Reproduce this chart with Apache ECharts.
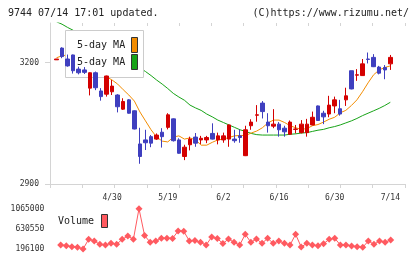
<!DOCTYPE html>
<html>
<head>
<meta charset="utf-8">
<script src="https://cdn.jsdelivr.net/npm/echarts/dist/echarts.min.js"></script>
<style>
  html, body { margin: 0; padding: 0; background: #fff; }
  #main { width: 420px; height: 259px; }
</style>
</head>
<body>
<div id="main"></div>
<script>
    var myChart = echarts.init(document.getElementById('main'));

    // 日付
    var dates = ['4/15','4/16','4/19','4/20','4/21','4/22','4/23','4/26','4/27','4/28',
        '4/30','5/6','5/7','5/10','5/11','5/12','5/13','5/14','5/17','5/18',
        '5/19','5/20','5/21','5/24','5/25','5/26','5/27','5/28','5/31','6/1',
        '6/2','6/3','6/4','6/7','6/8','6/9','6/10','6/11','6/14','6/15',
        '6/16','6/17','6/18','6/21','6/22','6/23','6/24','6/25','6/28','6/29',
        '6/30','7/1','7/2','7/5','7/6','7/7','7/8','7/9','7/12','7/13','7/14'];

    // 四本値
    var openP = [3207,3236,3209,3219,3184,3182,3137,3175,3130,3122,3128,3120,3085,3108,3081,2999,3009,3017,3011,3028,
        3040,3061,3009,2968,2997,3016,3009,3009,3025,3009,3009,3011,3011,3019,2970,3044,3070,3100,3053,3043,
        3048,3038,3023,3035,3027,3027,3046,3093,3075,3073,3093,3086,3108,3180,3169,3168,3209,3213,3189,3188,3197];
    var closeP = [3209,3215,3192,3180,3175,3176,3175,3138,3116,3167,3142,3091,3104,3075,3036,2968,3002,3001,3021,3017,
        3071,3007,2976,2991,3011,3001,3013,3015,3011,3019,3019,3046,3007,3015,3034,3053,3071,3079,3044,3048,
        3034,3029,3053,3036,3048,3048,3065,3057,3066,3095,3108,3073,3118,3135,3170,3197,3208,3190,3174,3182,3213];
    var lowP = [3207,3211,3190,3173,3171,3172,3119,3132,3106,3116,3120,3077,3083,3074,3035,2950,2984,2991,3009,2990,
        3035,3005,2975,2959,2983,2992,2999,3001,3010,2998,3002,2992,3002,3002,2969,3034,3054,3062,3027,3038,
        3017,3017,3022,3025,3025,3017,3045,3056,3048,3065,3075,3069,3093,3134,3155,3167,3198,3189,3171,3159,3182];
    var highP = [3209,3238,3220,3220,3190,3189,3176,3178,3137,3168,3157,3122,3112,3110,3082,3039,3034,3021,3025,3038,
        3075,3062,3013,2997,3017,3026,3019,3019,3050,3027,3027,3047,3034,3035,3044,3060,3095,3105,3075,3085,
        3053,3044,3057,3046,3058,3061,3079,3094,3081,3118,3116,3108,3138,3180,3184,3209,3225,3221,3192,3194,3219];

    // 移動平均
    var ma5 = [3212,3217,3219,3217,3209,3197,3187,3180,3172,3165,3157,3147,3133,3120,3105,3078,3056,3034,3016,3006,
        3004,3016,3019,3011,3014,3009,2996,2996,3003,3009,3011,3015,3019,3020,3020,3026,3031,3039,3051,3058,
        3058,3052,3044,3039,3035,3037,3044,3047,3053,3060,3065,3076,3082,3094,3108,3128,3150,3170,3182,3188,3192];
    var ma25 = [3301,3295,3287,3280,3272,3265,3257,3250,3243,3235,3227,3219,3210,3202,3194,3187,3178,3168,3157,3147,
        3136,3124,3115,3107,3095,3088,3082,3073,3066,3058,3052,3046,3040,3034,3030,3025,3022,3021,3021,3021,
        3021,3021,3023,3024,3026,3027,3030,3033,3035,3039,3042,3046,3051,3056,3062,3069,3075,3081,3087,3094,3102];

    // 出来高
    var volume = [null,282000,267000,246000,233000,196100,405000,369000,297000,282000,319000,297000,405000,476000,405000,
        1065000,487000,341000,369000,427000,427000,425000,584000,580000,369000,379000,341000,282000,455000,422000,
        315000,412000,341000,282000,513000,341000,412000,319000,427000,319000,369000,319000,282000,513000,239000,
        319000,282000,267000,310000,405000,427000,282000,282000,261000,246000,233000,369000,297000,369000,341000,390000];

    var priceTicks = [2900, 3200];
    var volTicks = [196100, 630550, 1065000];

    var candleData = [];
    for (var i = 0; i < dates.length; i++) {
        candleData.push([openP[i], closeP[i], lowP[i], highP[i]]);
    }

    var mono = 'DejaVu Sans Mono';
    var axisGray = '#d4d4d4';
    // 桁区切りなしで表示
    function plain(v) { return String(v); }

    var option = {
        animation: false,
        grid: [
            {left: 53.7, top: 23, width: 339.4, height: 161},   // ローソク足
            {left: 50, top: 23, width: 355, height: 161},       // 枠・目盛
            {left: 52.3, top: 208.7, width: 341.2, height: 40.3} // 出来高
        ],
        xAxis: [
            {
                type: 'category', gridIndex: 0, data: dates, boundaryGap: true,
                axisLine: {show: false},
                axisTick: {show: false},
                axisLabel: {
                    interval: function (idx) { return idx > 0 && idx % 10 === 0; },
                    fontFamily: mono, fontSize: 8, color: '#333', margin: 10
                }
            },
            {
                type: 'value', gridIndex: 1, min: 0, max: 11, interval: 1,
                axisLine: {show: true, lineStyle: {color: axisGray}},
                axisTick: {show: true, length: 4, lineStyle: {color: axisGray}},
                axisLabel: {show: false},
                splitLine: {show: false}
            },
            {
                type: 'value', gridIndex: 1, min: 0, max: 11, interval: 1,
                axisLine: {show: false},
                axisTick: {show: true, inside: true, length: 3, lineStyle: {color: axisGray}},
                axisLabel: {show: false},
                splitLine: {show: false}
            },
            {
                type: 'category', gridIndex: 2, data: dates, boundaryGap: true, show: false
            }
        ],
        yAxis: [
            {type: 'value', gridIndex: 0, min: 2900, max: 3298, show: false},
            {
                type: 'value', gridIndex: 1, min: 2900, max: 3298,
                axisLine: {show: true, lineStyle: {color: axisGray}},
                axisTick: {show: true, length: 5, customValues: priceTicks, lineStyle: {color: axisGray}},
                axisLabel: {customValues: priceTicks, formatter: plain, fontFamily: mono, fontSize: 8, color: '#333', margin: 11},
                splitLine: {show: false}
            },
            {
                type: 'value', gridIndex: 2, min: 196100, max: 1065000,
                axisLine: {show: false},
                axisTick: {show: false},
                axisLabel: {customValues: volTicks, formatter: plain, fontFamily: mono, fontSize: 8, color: '#333', margin: 8},
                splitLine: {show: false}
            }
        ],
        series: [
            {
                name: '25-day MA', type: 'line', xAxisIndex: 0, yAxisIndex: 0,
                data: ma25, symbol: 'none', z: 1,
                lineStyle: {color: '#17a317', width: 1}
            },
            {
                name: '5-day MA', type: 'line', xAxisIndex: 0, yAxisIndex: 0,
                data: ma5, symbol: 'none', z: 1,
                lineStyle: {color: '#f28c00', width: 1}
            },
            {
                type: 'candlestick', xAxisIndex: 0, yAxisIndex: 0,
                data: candleData, barWidth: 4, z: 5,
                itemStyle: {
                    color: '#d40000', color0: '#3f3fbf',
                    borderColor: '#d40000', borderColor0: '#3f3fbf', borderWidth: 1
                }
            },
            {
                name: 'Volume', type: 'line', xAxisIndex: 3, yAxisIndex: 2,
                data: volume, symbol: 'diamond', symbolSize: 7, showAllSymbol: true,
                itemStyle: {color: '#ff5a60'},
                lineStyle: {color: '#ff5a60', width: 1}
            }
        ],
        graphic: [
            {type: 'text', z: 10, style: {x: 8, y: 13.5, text: '9744 07/14 17:01 updated.', font: '10px ' + mono, fill: '#222', verticalAlign: 'middle'}},
            {type: 'text', z: 10, style: {x: 409, y: 13.5, text: '(C)https://www.rizumu.net/', font: '10px ' + mono, fill: '#222', textAlign: 'right', verticalAlign: 'middle'}},
            // 凡例の枠
            {type: 'rect', z: 3, shape: {x: 65.5, y: 30.5, width: 78, height: 47}, style: {fill: '#fff', stroke: '#cccccc', lineWidth: 1}},
            {type: 'text', z: 10, style: {x: 77, y: 45.5, text: '5-day MA', font: '10px ' + mono, fill: '#222', verticalAlign: 'middle'}},
            {type: 'text', z: 10, style: {x: 77, y: 62, text: '5-day MA', font: '10px ' + mono, fill: '#222', verticalAlign: 'middle'}},
            {type: 'rect', z: 10, shape: {x: 131.5, y: 37.5, width: 6, height: 15}, style: {fill: '#f28c00', stroke: '#333', lineWidth: 1}},
            {type: 'rect', z: 10, shape: {x: 131.5, y: 54.5, width: 6, height: 15}, style: {fill: '#17a317', stroke: '#333', lineWidth: 1}},
            {type: 'text', z: 10, style: {x: 58, y: 221.5, text: 'Volume', font: '10px ' + mono, fill: '#222', verticalAlign: 'middle'}},
            {type: 'rect', z: 10, shape: {x: 101.5, y: 214.5, width: 6, height: 13}, style: {fill: '#ff5a60', stroke: '#333', lineWidth: 1}}
        ]
    };

    myChart.setOption(option);
    window.addEventListener("resize", function() {
        myChart.resize();
    });
</script>
</body>
</html>
